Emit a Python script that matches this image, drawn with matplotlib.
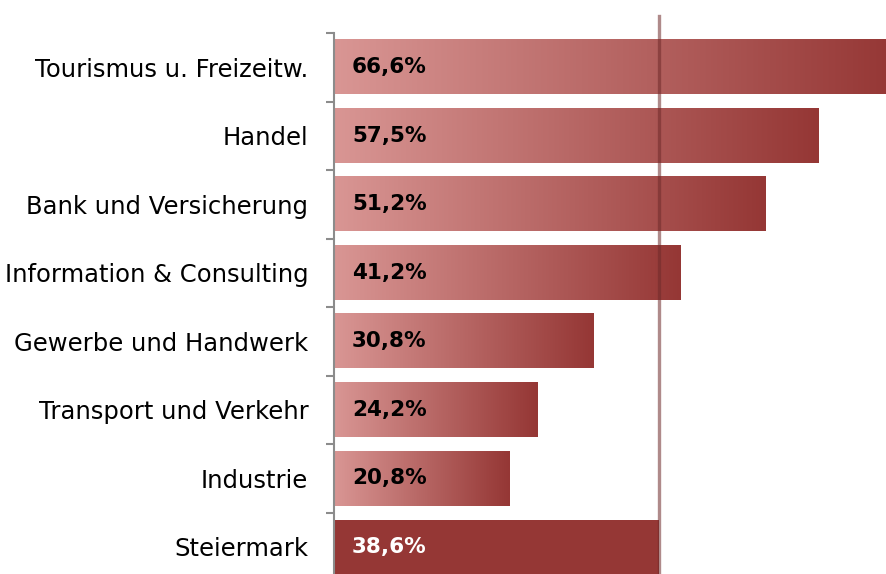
import numpy as np
import matplotlib
matplotlib.use("Agg")
import matplotlib.pyplot as plt
from matplotlib.colors import LinearSegmentedColormap

# Daten
categories = ["Tourismus u. Freizeitw.", "Handel", "Bank und Versicherung",
              "Information & Consulting", "Gewerbe und Handwerk",
              "Transport und Verkehr", "Industrie", "Steiermark"]
values = [66.6, 57.5, 51.2, 41.2, 30.8, 24.2, 20.8, 38.6]
labels = ["66,6%", "57,5%", "51,2%", "41,2%", "30,8%", "24,2%", "20,8%", "38,6%"]
reference = 38.6

light = "#d99694"
dark = "#953735"
grad = LinearSegmentedColormap.from_list("grad", [light, dark])

fig = plt.figure(figsize=(8.86, 5.74), dpi=100)
W, H = 886, 574
ax = fig.add_axes([334 / W, 0, (886 - 334) / W, (574 - 33) / H])

bar_h = 0.79
gradient = np.linspace(0, 1, 256).reshape(1, -1)
for i, (cat, v, lab) in enumerate(zip(categories, values, labels)):
    y0, y1 = i - bar_h / 2, i + bar_h / 2
    if cat == "Steiermark":
        ax.barh(i, v, height=bar_h, color=dark, zorder=2)
        col = "white"
    else:
        ax.imshow(gradient, cmap=grad, aspect="auto",
                  extent=(0, v, y1, y0), zorder=2, interpolation="bilinear")
        col = "black"
    ax.annotate(lab, xy=(0, i), xytext=(13, 0), textcoords="offset points",
                va="center", ha="left", fontsize=15.5, fontweight="bold",
                color=col, zorder=4)

ax.axvline(reference, ymin=0, ymax=1 + 17 / 541, color="#6e2a2a", alpha=0.55,
           linewidth=2.4, clip_on=False, zorder=3)

ax.set_xlim(0, (886 - 334) / 8.42)
ax.set_ylim(7 + 27 / 68.5, -0.5)
ax.set_yticks(range(len(categories)))
ax.set_yticklabels(categories, fontsize=17.5)
ax.set_yticks(np.arange(-0.5, len(categories) - 0.5, 1), minor=True)
ax.tick_params(axis="y", which="major", length=0, pad=18.5)
ax.tick_params(axis="y", which="minor", length=6, width=1.5, color="#8c8c8c")
ax.set_xticks([])
for s in ["top", "right", "bottom"]:
    ax.spines[s].set_visible(False)
ax.spines["left"].set_color("#8c8c8c")
ax.spines["left"].set_linewidth(1.5)

fig.savefig("out.png", dpi=100)
